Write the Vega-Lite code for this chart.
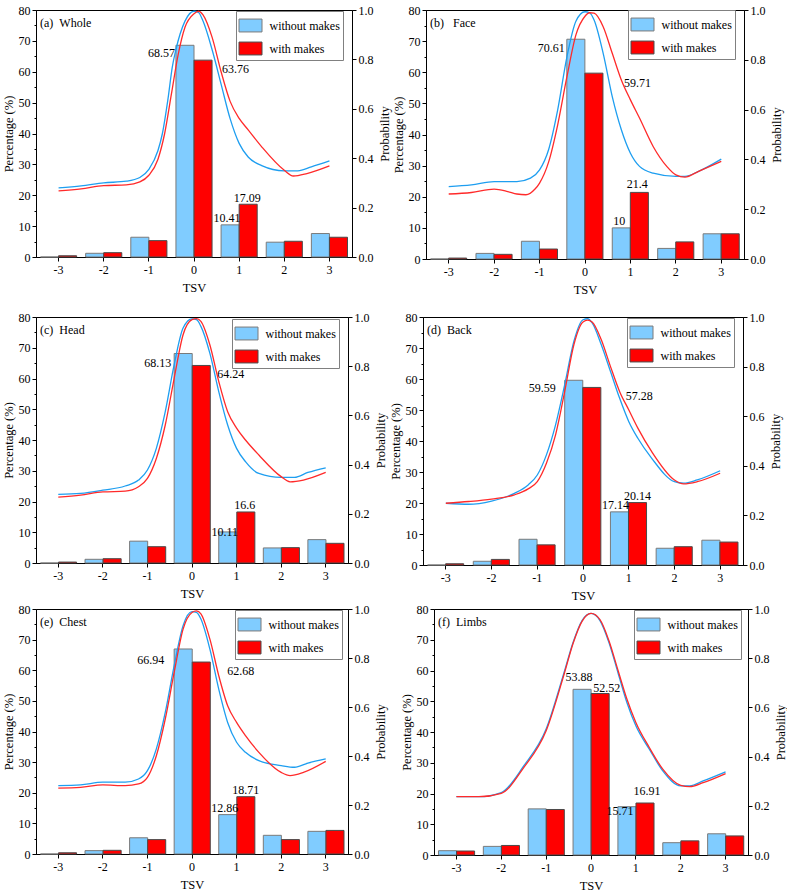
{
"$schema": "https://vega.github.io/schema/vega-lite/v6.json",
"padding": {"left": 1, "top": 3, "right": 0, "bottom": 0},
"background": "white",
"config": {
 "font": "Liberation Serif",
 "view": {"stroke": "black", "strokeWidth": 1},
 "axis": {"labelFont": "Liberation Serif", "titleFont": "Liberation Serif", "labelFontSize": 12, "titleFontSize": 12.5, "titleFontWeight": "normal", "labelColor": "black", "titleColor": "black", "domainColor": "black", "tickColor": "black", "grid": false, "tickSize": 4, "labelPadding": 2},
 "legend": {"labelFont": "Liberation Serif", "labelFontSize": 12, "labelColor": "black", "strokeColor": "#808080", "padding": 2.5, "rowPadding": 2, "symbolType": "M-1,-0.56L1,-0.56L1,0.56L-1,0.56Z", "symbolSize": 529, "symbolStrokeWidth": 1, "labelOffset": 7, "title": null},
 "title": {"font": "Liberation Serif", "fontSize": 12, "fontWeight": "normal", "color": "black", "anchor": "start", "frame": "group", "orient": "top", "baseline": "alphabetic", "offset": -26, "dx": 4},
 "text": {"font": "Liberation Serif", "fontSize": 12, "color": "black", "baseline": "middle"},
 "concat": {"spacing": 3}
},
"datasets": {
 "bars": [
  {"panel":"a","TSV":-3,"group":"without makes","pct":0},{"panel":"a","TSV":-3,"group":"with makes","pct":0.4},
  {"panel":"a","TSV":-2,"group":"without makes","pct":1.2},{"panel":"a","TSV":-2,"group":"with makes","pct":1.4},
  {"panel":"a","TSV":-1,"group":"without makes","pct":6.4},{"panel":"a","TSV":-1,"group":"with makes","pct":5.3},
  {"panel":"a","TSV":0,"group":"without makes","pct":68.57},{"panel":"a","TSV":0,"group":"with makes","pct":63.76},
  {"panel":"a","TSV":1,"group":"without makes","pct":10.41},{"panel":"a","TSV":1,"group":"with makes","pct":17.09},
  {"panel":"a","TSV":2,"group":"without makes","pct":4.8},{"panel":"a","TSV":2,"group":"with makes","pct":5.1},
  {"panel":"a","TSV":3,"group":"without makes","pct":7.6},{"panel":"a","TSV":3,"group":"with makes","pct":6.4},
  {"panel":"b","TSV":-3,"group":"without makes","pct":0},{"panel":"b","TSV":-3,"group":"with makes","pct":0.3},
  {"panel":"b","TSV":-2,"group":"without makes","pct":1.8},{"panel":"b","TSV":-2,"group":"with makes","pct":1.5},
  {"panel":"b","TSV":-1,"group":"without makes","pct":5.7},{"panel":"b","TSV":-1,"group":"with makes","pct":3.2},
  {"panel":"b","TSV":0,"group":"without makes","pct":70.61},{"panel":"b","TSV":0,"group":"with makes","pct":59.71},
  {"panel":"b","TSV":1,"group":"without makes","pct":10},{"panel":"b","TSV":1,"group":"with makes","pct":21.4},
  {"panel":"b","TSV":2,"group":"without makes","pct":3.4},{"panel":"b","TSV":2,"group":"with makes","pct":5.5},
  {"panel":"b","TSV":3,"group":"without makes","pct":8.1},{"panel":"b","TSV":3,"group":"with makes","pct":8.1},
  {"panel":"c","TSV":-3,"group":"without makes","pct":0},{"panel":"c","TSV":-3,"group":"with makes","pct":0.3},
  {"panel":"c","TSV":-2,"group":"without makes","pct":1.2},{"panel":"c","TSV":-2,"group":"with makes","pct":1.4},
  {"panel":"c","TSV":-1,"group":"without makes","pct":7.1},{"panel":"c","TSV":-1,"group":"with makes","pct":5.3},
  {"panel":"c","TSV":0,"group":"without makes","pct":68.13},{"panel":"c","TSV":0,"group":"with makes","pct":64.24},
  {"panel":"c","TSV":1,"group":"without makes","pct":10.11},{"panel":"c","TSV":1,"group":"with makes","pct":16.6},
  {"panel":"c","TSV":2,"group":"without makes","pct":4.9},{"panel":"c","TSV":2,"group":"with makes","pct":5.0},
  {"panel":"c","TSV":3,"group":"without makes","pct":7.6},{"panel":"c","TSV":3,"group":"with makes","pct":6.4},
  {"panel":"d","TSV":-3,"group":"without makes","pct":0},{"panel":"d","TSV":-3,"group":"with makes","pct":0.4},
  {"panel":"d","TSV":-2,"group":"without makes","pct":1.2},{"panel":"d","TSV":-2,"group":"with makes","pct":1.8},
  {"panel":"d","TSV":-1,"group":"without makes","pct":8.3},{"panel":"d","TSV":-1,"group":"with makes","pct":6.5},
  {"panel":"d","TSV":0,"group":"without makes","pct":59.59},{"panel":"d","TSV":0,"group":"with makes","pct":57.28},
  {"panel":"d","TSV":1,"group":"without makes","pct":17.14},{"panel":"d","TSV":1,"group":"with makes","pct":20.14},
  {"panel":"d","TSV":2,"group":"without makes","pct":5.4},{"panel":"d","TSV":2,"group":"with makes","pct":5.9},
  {"panel":"d","TSV":3,"group":"without makes","pct":8.0},{"panel":"d","TSV":3,"group":"with makes","pct":7.4},
  {"panel":"e","TSV":-3,"group":"without makes","pct":0},{"panel":"e","TSV":-3,"group":"with makes","pct":0.4},
  {"panel":"e","TSV":-2,"group":"without makes","pct":1.1},{"panel":"e","TSV":-2,"group":"with makes","pct":1.2},
  {"panel":"e","TSV":-1,"group":"without makes","pct":5.3},{"panel":"e","TSV":-1,"group":"with makes","pct":4.7},
  {"panel":"e","TSV":0,"group":"without makes","pct":66.94},{"panel":"e","TSV":0,"group":"with makes","pct":62.68},
  {"panel":"e","TSV":1,"group":"without makes","pct":12.86},{"panel":"e","TSV":1,"group":"with makes","pct":18.71},
  {"panel":"e","TSV":2,"group":"without makes","pct":6.1},{"panel":"e","TSV":2,"group":"with makes","pct":4.7},
  {"panel":"e","TSV":3,"group":"without makes","pct":7.4},{"panel":"e","TSV":3,"group":"with makes","pct":7.7},
  {"panel":"f","TSV":-3,"group":"without makes","pct":1.4},{"panel":"f","TSV":-3,"group":"with makes","pct":1.3},
  {"panel":"f","TSV":-2,"group":"without makes","pct":2.8},{"panel":"f","TSV":-2,"group":"with makes","pct":3.1},
  {"panel":"f","TSV":-1,"group":"without makes","pct":15.0},{"panel":"f","TSV":-1,"group":"with makes","pct":14.8},
  {"panel":"f","TSV":0,"group":"without makes","pct":53.88},{"panel":"f","TSV":0,"group":"with makes","pct":52.52},
  {"panel":"f","TSV":1,"group":"without makes","pct":15.71},{"panel":"f","TSV":1,"group":"with makes","pct":16.91},
  {"panel":"f","TSV":2,"group":"without makes","pct":4.0},{"panel":"f","TSV":2,"group":"with makes","pct":4.6},
  {"panel":"f","TSV":3,"group":"without makes","pct":6.9},{"panel":"f","TSV":3,"group":"with makes","pct":6.2}
 ],
 "curves": [
  {"panel":"a","group":"without makes","t":-3,"p":0.28},{"panel":"a","group":"without makes","t":-2.5,"p":0.288},{"panel":"a","group":"without makes","t":-2,"p":0.3},{"panel":"a","group":"without makes","t":-1.5,"p":0.307},{"panel":"a","group":"without makes","t":-1.2,"p":0.322},{"panel":"a","group":"without makes","t":-1,"p":0.355},{"panel":"a","group":"without makes","t":-0.8,"p":0.43},{"panel":"a","group":"without makes","t":-0.7,"p":0.5},{"panel":"a","group":"without makes","t":-0.58,"p":0.635},{"panel":"a","group":"without makes","t":-0.48,"p":0.77},{"panel":"a","group":"without makes","t":-0.4,"p":0.84},{"panel":"a","group":"without makes","t":-0.2,"p":0.955},{"panel":"a","group":"without makes","t":0,"p":0.995},{"panel":"a","group":"without makes","t":0.1,"p":0.99},{"panel":"a","group":"without makes","t":0.2,"p":0.955},{"panel":"a","group":"without makes","t":0.4,"p":0.84},{"panel":"a","group":"without makes","t":0.6,"p":0.7},{"panel":"a","group":"without makes","t":0.8,"p":0.56},{"panel":"a","group":"without makes","t":1,"p":0.46},{"panel":"a","group":"without makes","t":1.2,"p":0.405},{"panel":"a","group":"without makes","t":1.5,"p":0.37},{"panel":"a","group":"without makes","t":2,"p":0.349},{"panel":"a","group":"without makes","t":2.3,"p":0.349},{"panel":"a","group":"without makes","t":2.6,"p":0.365},{"panel":"a","group":"without makes","t":3,"p":0.389},
  {"panel":"a","group":"with makes","t":-3,"p":0.268},{"panel":"a","group":"with makes","t":-2.5,"p":0.276},{"panel":"a","group":"with makes","t":-2,"p":0.289},{"panel":"a","group":"with makes","t":-1.5,"p":0.292},{"panel":"a","group":"with makes","t":-1.2,"p":0.304},{"panel":"a","group":"with makes","t":-1,"p":0.331},{"panel":"a","group":"with makes","t":-0.8,"p":0.395},{"panel":"a","group":"with makes","t":-0.65,"p":0.5},{"panel":"a","group":"with makes","t":-0.5,"p":0.66},{"panel":"a","group":"with makes","t":-0.35,"p":0.82},{"panel":"a","group":"with makes","t":-0.2,"p":0.93},{"panel":"a","group":"with makes","t":0,"p":0.985},{"panel":"a","group":"with makes","t":0.1,"p":0.995},{"panel":"a","group":"with makes","t":0.2,"p":0.98},{"panel":"a","group":"with makes","t":0.4,"p":0.89},{"panel":"a","group":"with makes","t":0.6,"p":0.75},{"panel":"a","group":"with makes","t":0.8,"p":0.63},{"panel":"a","group":"with makes","t":1,"p":0.561},{"panel":"a","group":"with makes","t":1.2,"p":0.515},{"panel":"a","group":"with makes","t":1.5,"p":0.446},{"panel":"a","group":"with makes","t":2,"p":0.351},{"panel":"a","group":"with makes","t":2.2,"p":0.328},{"panel":"a","group":"with makes","t":2.5,"p":0.338},{"panel":"a","group":"with makes","t":3,"p":0.369},
  {"panel":"b","group":"without makes","t":-3,"p":0.291},{"panel":"b","group":"without makes","t":-2.5,"p":0.298},{"panel":"b","group":"without makes","t":-2,"p":0.311},{"panel":"b","group":"without makes","t":-1.5,"p":0.311},{"panel":"b","group":"without makes","t":-1.2,"p":0.325},{"panel":"b","group":"without makes","t":-1,"p":0.358},{"panel":"b","group":"without makes","t":-0.8,"p":0.44},{"panel":"b","group":"without makes","t":-0.6,"p":0.6},{"panel":"b","group":"without makes","t":-0.4,"p":0.81},{"panel":"b","group":"without makes","t":-0.2,"p":0.955},{"panel":"b","group":"without makes","t":0,"p":0.993},{"panel":"b","group":"without makes","t":0.1,"p":0.989},{"panel":"b","group":"without makes","t":0.2,"p":0.96},{"panel":"b","group":"without makes","t":0.4,"p":0.826},{"panel":"b","group":"without makes","t":0.6,"p":0.652},{"panel":"b","group":"without makes","t":0.8,"p":0.519},{"panel":"b","group":"without makes","t":1,"p":0.425},{"panel":"b","group":"without makes","t":1.2,"p":0.372},{"panel":"b","group":"without makes","t":1.5,"p":0.345},{"panel":"b","group":"without makes","t":2,"p":0.332},{"panel":"b","group":"without makes","t":2.2,"p":0.332},{"panel":"b","group":"without makes","t":2.5,"p":0.352},{"panel":"b","group":"without makes","t":3,"p":0.401},
  {"panel":"b","group":"with makes","t":-3,"p":0.261},{"panel":"b","group":"with makes","t":-2.5,"p":0.267},{"panel":"b","group":"with makes","t":-2,"p":0.281},{"panel":"b","group":"with makes","t":-1.7,"p":0.271},{"panel":"b","group":"with makes","t":-1.5,"p":0.261},{"panel":"b","group":"with makes","t":-1.3,"p":0.258},{"panel":"b","group":"with makes","t":-1.1,"p":0.281},{"panel":"b","group":"with makes","t":-1,"p":0.305},{"panel":"b","group":"with makes","t":-0.8,"p":0.39},{"panel":"b","group":"with makes","t":-0.6,"p":0.54},{"panel":"b","group":"with makes","t":-0.4,"p":0.73},{"panel":"b","group":"with makes","t":-0.2,"p":0.9},{"panel":"b","group":"with makes","t":0,"p":0.975},{"panel":"b","group":"with makes","t":0.1,"p":0.989},{"panel":"b","group":"with makes","t":0.2,"p":0.987},{"panel":"b","group":"with makes","t":0.4,"p":0.933},{"panel":"b","group":"with makes","t":0.6,"p":0.826},{"panel":"b","group":"with makes","t":0.8,"p":0.719},{"panel":"b","group":"with makes","t":1,"p":0.639},{"panel":"b","group":"with makes","t":1.2,"p":0.566},{"panel":"b","group":"with makes","t":1.5,"p":0.452},{"panel":"b","group":"with makes","t":1.8,"p":0.372},{"panel":"b","group":"with makes","t":2,"p":0.338},{"panel":"b","group":"with makes","t":2.2,"p":0.329},{"panel":"b","group":"with makes","t":2.5,"p":0.352},{"panel":"b","group":"with makes","t":3,"p":0.392},
  {"panel":"c","group":"without makes","t":-3,"p":0.279},{"panel":"c","group":"without makes","t":-2.5,"p":0.283},{"panel":"c","group":"without makes","t":-2,"p":0.296},{"panel":"c","group":"without makes","t":-1.5,"p":0.313},{"panel":"c","group":"without makes","t":-1.2,"p":0.337},{"panel":"c","group":"without makes","t":-1,"p":0.378},{"panel":"c","group":"without makes","t":-0.8,"p":0.466},{"panel":"c","group":"without makes","t":-0.6,"p":0.615},{"panel":"c","group":"without makes","t":-0.4,"p":0.806},{"panel":"c","group":"without makes","t":-0.2,"p":0.955},{"panel":"c","group":"without makes","t":0,"p":0.992},{"panel":"c","group":"without makes","t":0.1,"p":0.989},{"panel":"c","group":"without makes","t":0.2,"p":0.962},{"panel":"c","group":"without makes","t":0.4,"p":0.853},{"panel":"c","group":"without makes","t":0.6,"p":0.697},{"panel":"c","group":"without makes","t":0.8,"p":0.561},{"panel":"c","group":"without makes","t":1,"p":0.466},{"panel":"c","group":"without makes","t":1.2,"p":0.412},{"panel":"c","group":"without makes","t":1.5,"p":0.364},{"panel":"c","group":"without makes","t":2,"p":0.348},{"panel":"c","group":"without makes","t":2.3,"p":0.348},{"panel":"c","group":"without makes","t":2.6,"p":0.368},{"panel":"c","group":"without makes","t":3,"p":0.387},
  {"panel":"c","group":"with makes","t":-3,"p":0.268},{"panel":"c","group":"with makes","t":-2.5,"p":0.276},{"panel":"c","group":"with makes","t":-2,"p":0.289},{"panel":"c","group":"with makes","t":-1.5,"p":0.292},{"panel":"c","group":"with makes","t":-1.2,"p":0.31},{"panel":"c","group":"with makes","t":-1,"p":0.344},{"panel":"c","group":"with makes","t":-0.8,"p":0.425},{"panel":"c","group":"with makes","t":-0.6,"p":0.561},{"panel":"c","group":"with makes","t":-0.4,"p":0.751},{"panel":"c","group":"with makes","t":-0.2,"p":0.928},{"panel":"c","group":"with makes","t":0,"p":0.989},{"panel":"c","group":"with makes","t":0.1,"p":0.993},{"panel":"c","group":"with makes","t":0.2,"p":0.982},{"panel":"c","group":"with makes","t":0.4,"p":0.887},{"panel":"c","group":"with makes","t":0.6,"p":0.738},{"panel":"c","group":"with makes","t":0.8,"p":0.615},{"panel":"c","group":"with makes","t":1,"p":0.548},{"panel":"c","group":"with makes","t":1.2,"p":0.5},{"panel":"c","group":"with makes","t":1.5,"p":0.439},{"panel":"c","group":"with makes","t":2,"p":0.351},{"panel":"c","group":"with makes","t":2.2,"p":0.33},{"panel":"c","group":"with makes","t":2.5,"p":0.337},{"panel":"c","group":"with makes","t":3,"p":0.368},
  {"panel":"d","group":"without makes","t":-3,"p":0.249},{"panel":"d","group":"without makes","t":-2.5,"p":0.245},{"panel":"d","group":"without makes","t":-2,"p":0.258},{"panel":"d","group":"without makes","t":-1.5,"p":0.289},{"panel":"d","group":"without makes","t":-1.2,"p":0.323},{"panel":"d","group":"without makes","t":-1,"p":0.363},{"panel":"d","group":"without makes","t":-0.8,"p":0.444},{"panel":"d","group":"without makes","t":-0.6,"p":0.565},{"panel":"d","group":"without makes","t":-0.4,"p":0.727},{"panel":"d","group":"without makes","t":-0.2,"p":0.902},{"panel":"d","group":"without makes","t":0,"p":0.989},{"panel":"d","group":"without makes","t":0.1,"p":0.993},{"panel":"d","group":"without makes","t":0.2,"p":0.976},{"panel":"d","group":"without makes","t":0.4,"p":0.888},{"panel":"d","group":"without makes","t":0.6,"p":0.781},{"panel":"d","group":"without makes","t":0.8,"p":0.673},{"panel":"d","group":"without makes","t":1,"p":0.579},{"panel":"d","group":"without makes","t":1.2,"p":0.511},{"panel":"d","group":"without makes","t":1.5,"p":0.431},{"panel":"d","group":"without makes","t":2,"p":0.336},{"panel":"d","group":"without makes","t":2.2,"p":0.33},{"panel":"d","group":"without makes","t":2.5,"p":0.343},{"panel":"d","group":"without makes","t":3,"p":0.38},
  {"panel":"d","group":"with makes","t":-3,"p":0.249},{"panel":"d","group":"with makes","t":-2.5,"p":0.256},{"panel":"d","group":"with makes","t":-2,"p":0.266},{"panel":"d","group":"with makes","t":-1.5,"p":0.283},{"panel":"d","group":"with makes","t":-1.2,"p":0.307},{"panel":"d","group":"with makes","t":-1,"p":0.336},{"panel":"d","group":"with makes","t":-0.8,"p":0.41},{"panel":"d","group":"with makes","t":-0.6,"p":0.525},{"panel":"d","group":"with makes","t":-0.4,"p":0.7},{"panel":"d","group":"with makes","t":-0.2,"p":0.888},{"panel":"d","group":"with makes","t":0,"p":0.98},{"panel":"d","group":"with makes","t":0.1,"p":0.987},{"panel":"d","group":"with makes","t":0.2,"p":0.98},{"panel":"d","group":"with makes","t":0.4,"p":0.908},{"panel":"d","group":"with makes","t":0.6,"p":0.801},{"panel":"d","group":"with makes","t":0.8,"p":0.7},{"panel":"d","group":"with makes","t":1,"p":0.626},{"panel":"d","group":"with makes","t":1.2,"p":0.552},{"panel":"d","group":"with makes","t":1.5,"p":0.458},{"panel":"d","group":"with makes","t":2,"p":0.343},{"panel":"d","group":"with makes","t":2.2,"p":0.327},{"panel":"d","group":"with makes","t":2.5,"p":0.336},{"panel":"d","group":"with makes","t":3,"p":0.37},
  {"panel":"e","group":"without makes","t":-3,"p":0.279},{"panel":"e","group":"without makes","t":-2.5,"p":0.282},{"panel":"e","group":"without makes","t":-2,"p":0.293},{"panel":"e","group":"without makes","t":-1.5,"p":0.293},{"panel":"e","group":"without makes","t":-1.2,"p":0.306},{"panel":"e","group":"without makes","t":-1,"p":0.34},{"panel":"e","group":"without makes","t":-0.8,"p":0.429},{"panel":"e","group":"without makes","t":-0.6,"p":0.578},{"panel":"e","group":"without makes","t":-0.4,"p":0.769},{"panel":"e","group":"without makes","t":-0.2,"p":0.932},{"panel":"e","group":"without makes","t":0,"p":0.989},{"panel":"e","group":"without makes","t":0.1,"p":0.986},{"panel":"e","group":"without makes","t":0.2,"p":0.959},{"panel":"e","group":"without makes","t":0.4,"p":0.837},{"panel":"e","group":"without makes","t":0.6,"p":0.673},{"panel":"e","group":"without makes","t":0.8,"p":0.537},{"panel":"e","group":"without makes","t":1,"p":0.456},{"panel":"e","group":"without makes","t":1.2,"p":0.415},{"panel":"e","group":"without makes","t":1.5,"p":0.381},{"panel":"e","group":"without makes","t":2,"p":0.361},{"panel":"e","group":"without makes","t":2.3,"p":0.354},{"panel":"e","group":"without makes","t":2.6,"p":0.371},{"panel":"e","group":"without makes","t":3,"p":0.388},
  {"panel":"e","group":"with makes","t":-3,"p":0.269},{"panel":"e","group":"with makes","t":-2.5,"p":0.272},{"panel":"e","group":"with makes","t":-2,"p":0.282},{"panel":"e","group":"with makes","t":-1.5,"p":0.279},{"panel":"e","group":"with makes","t":-1.2,"p":0.286},{"panel":"e","group":"with makes","t":-1,"p":0.313},{"panel":"e","group":"with makes","t":-0.8,"p":0.401},{"panel":"e","group":"with makes","t":-0.6,"p":0.551},{"panel":"e","group":"with makes","t":-0.4,"p":0.741},{"panel":"e","group":"with makes","t":-0.2,"p":0.918},{"panel":"e","group":"with makes","t":0,"p":0.986},{"panel":"e","group":"with makes","t":0.1,"p":0.992},{"panel":"e","group":"with makes","t":0.2,"p":0.98},{"panel":"e","group":"with makes","t":0.4,"p":0.878},{"panel":"e","group":"with makes","t":0.6,"p":0.728},{"panel":"e","group":"with makes","t":0.8,"p":0.605},{"panel":"e","group":"with makes","t":1,"p":0.537},{"panel":"e","group":"with makes","t":1.2,"p":0.483},{"panel":"e","group":"with makes","t":1.5,"p":0.415},{"panel":"e","group":"with makes","t":2,"p":0.333},{"panel":"e","group":"with makes","t":2.2,"p":0.32},{"panel":"e","group":"with makes","t":2.5,"p":0.333},{"panel":"e","group":"with makes","t":3,"p":0.378},
  {"panel":"f","group":"without makes","t":-3,"p":0.237},{"panel":"f","group":"without makes","t":-2.5,"p":0.237},{"panel":"f","group":"without makes","t":-2,"p":0.254},{"panel":"f","group":"without makes","t":-1.5,"p":0.362},{"panel":"f","group":"without makes","t":-1,"p":0.512},{"panel":"f","group":"without makes","t":-0.6,"p":0.742},{"panel":"f","group":"without makes","t":-0.4,"p":0.864},{"panel":"f","group":"without makes","t":-0.2,"p":0.953},{"panel":"f","group":"without makes","t":0,"p":0.982},{"panel":"f","group":"without makes","t":0.2,"p":0.953},{"panel":"f","group":"without makes","t":0.4,"p":0.864},{"panel":"f","group":"without makes","t":0.6,"p":0.742},{"panel":"f","group":"without makes","t":0.8,"p":0.62},{"panel":"f","group":"without makes","t":1,"p":0.525},{"panel":"f","group":"without makes","t":1.3,"p":0.43},{"panel":"f","group":"without makes","t":1.6,"p":0.342},{"panel":"f","group":"without makes","t":2,"p":0.281},{"panel":"f","group":"without makes","t":2.2,"p":0.281},{"panel":"f","group":"without makes","t":2.5,"p":0.301},{"panel":"f","group":"without makes","t":3,"p":0.338},
  {"panel":"f","group":"with makes","t":-3,"p":0.237},{"panel":"f","group":"with makes","t":-2.5,"p":0.237},{"panel":"f","group":"with makes","t":-2,"p":0.251},{"panel":"f","group":"with makes","t":-1.5,"p":0.355},{"panel":"f","group":"with makes","t":-1,"p":0.505},{"panel":"f","group":"with makes","t":-0.6,"p":0.735},{"panel":"f","group":"with makes","t":-0.4,"p":0.86},{"panel":"f","group":"with makes","t":-0.2,"p":0.95},{"panel":"f","group":"with makes","t":0,"p":0.982},{"panel":"f","group":"with makes","t":0.2,"p":0.957},{"panel":"f","group":"with makes","t":0.4,"p":0.871},{"panel":"f","group":"with makes","t":0.6,"p":0.752},{"panel":"f","group":"with makes","t":0.8,"p":0.634},{"panel":"f","group":"with makes","t":1,"p":0.539},{"panel":"f","group":"with makes","t":1.3,"p":0.437},{"panel":"f","group":"with makes","t":1.6,"p":0.349},{"panel":"f","group":"with makes","t":2,"p":0.283},{"panel":"f","group":"with makes","t":2.2,"p":0.278},{"panel":"f","group":"with makes","t":2.5,"p":0.294},{"panel":"f","group":"with makes","t":3,"p":0.331}
 ]
},
"resolve": {"scale": {"color": "independent", "stroke": "independent"}, "legend": {"color": "independent", "stroke": "independent"}},
"spacing": 14,
"vconcat": [
 {"hconcat": [
  {"width": 316, "height": 247, "title": {"text": "(a)\u00a0\u00a0Whole"},
   "layer": [
    {"data": {"name": "bars"}, "transform": [{"filter": "datum.panel === 'a'"}],
     "encoding": {
      "x": {"field": "TSV", "type": "ordinal", "scale": {"domain": [-3,-2,-1,0,1,2,3], "paddingInner": 0.2, "paddingOuter": 0.1}, "axis": {"title": "TSV", "labelAngle": 0, "labelPadding": 3, "titlePadding": 6}},
      "xOffset": {"field": "group", "type": "nominal", "sort": ["without makes", "with makes"], "scale": {"paddingInner": 0, "paddingOuter": 0}},
      "y": {"field": "pct", "type": "quantitative", "scale": {"domain": [0, 80], "nice": false}, "axis": {"title": "Percentage (%)", "titlePadding": 3, "values": [0,5,10,15,20,25,30,35,40,45,50,55,60,65,70,75,80], "labelExpr": "datum.value % 10 === 0 ? datum.label : ''", "tickSize": {"condition": {"test": "datum.value % 10 === 0", "value": 4}, "value": 2}}}
     },
     "layer": [
      {"mark": {"type": "bar", "strokeWidth": 1},
       "encoding": {
        "color": {"field": "group", "type": "nominal", "sort": ["without makes", "with makes"], "scale": {"domain": ["without makes", "with makes"], "range": ["#80ccff", "#ff0000"]}, "legend": {"orient": "none", "legendX": 200, "legendY": 1}},
        "stroke": {"field": "group", "type": "nominal", "sort": ["without makes", "with makes"], "scale": {"domain": ["without makes", "with makes"], "range": ["#7a7a7a", "#4a4a4a"]}, "legend": {"orient": "none", "legendX": 200, "legendY": 1}}
       }},
      {"transform": [{"filter": "datum.TSV === 0 && datum.group === 'without makes'"}], "mark": {"type": "text", "align": "right", "dx": -10, "dy": 8}, "encoding": {"text": {"field": "pct", "type": "nominal"}}},
      {"transform": [{"filter": "datum.TSV === 0 && datum.group === 'with makes'"}], "mark": {"type": "text", "align": "left", "dx": 19, "dy": 9}, "encoding": {"text": {"field": "pct", "type": "nominal"}}},
      {"transform": [{"filter": "datum.TSV === 1 && datum.group === 'without makes'"}], "mark": {"type": "text", "align": "center", "dx": -3, "dy": -7}, "encoding": {"text": {"field": "pct", "type": "nominal"}}},
      {"transform": [{"filter": "datum.TSV === 1 && datum.group === 'with makes'"}], "mark": {"type": "text", "align": "center", "dx": -1, "dy": -6}, "encoding": {"text": {"field": "pct", "type": "nominal"}}}
     ]},
    {"data": {"name": "curves"}, "transform": [{"filter": "datum.panel === 'a'"}],
     "mark": {"type": "line", "interpolate": "monotone", "strokeWidth": 1.3},
     "encoding": {
      "x": {"field": "t", "type": "quantitative", "scale": {"domain": [-3.5, 3.5], "nice": false, "zero": false}, "axis": null},
      "y": {"field": "p", "type": "quantitative", "scale": {"domain": [0, 1], "nice": false}, "axis": {"orient": "right", "title": "Probability", "titleAngle": 270, "titleBaseline": "top", "titlePadding": 5, "values": [0,0.2,0.4,0.6,0.8,1], "format": ".1f"}},
      "detail": {"field": "group", "type": "nominal"},
      "stroke": {"condition": {"test": "datum.group === 'with makes'", "value": "#ff2a2a"}, "value": "#1e9ef0"}
     }}
   ],
   "resolve": {"scale": {"x": "independent", "y": "independent"}}
  },
  {"width": 318, "height": 249, "title": {"text": "(b)\u00a0\u00a0\u00a0Face"},
   "layer": [
    {"data": {"name": "bars"}, "transform": [{"filter": "datum.panel === 'b'"}],
     "encoding": {
      "x": {"field": "TSV", "type": "ordinal", "scale": {"domain": [-3,-2,-1,0,1,2,3], "paddingInner": 0.2, "paddingOuter": 0.1}, "axis": {"title": "TSV", "labelAngle": 0, "labelPadding": 3, "titlePadding": 6}},
      "xOffset": {"field": "group", "type": "nominal", "sort": ["without makes", "with makes"], "scale": {"paddingInner": 0, "paddingOuter": 0}},
      "y": {"field": "pct", "type": "quantitative", "scale": {"domain": [0, 80], "nice": false}, "axis": {"title": "Percentage (%)", "titlePadding": 3, "values": [0,5,10,15,20,25,30,35,40,45,50,55,60,65,70,75,80], "labelExpr": "datum.value % 10 === 0 ? datum.label : ''", "tickSize": {"condition": {"test": "datum.value % 10 === 0", "value": 4}, "value": 2}}}
     },
     "layer": [
      {"mark": {"type": "bar", "strokeWidth": 1},
       "encoding": {
        "color": {"field": "group", "type": "nominal", "sort": ["without makes", "with makes"], "scale": {"domain": ["without makes", "with makes"], "range": ["#80ccff", "#ff0000"]}, "legend": {"orient": "none", "legendX": 202, "legendY": 0}},
        "stroke": {"field": "group", "type": "nominal", "sort": ["without makes", "with makes"], "scale": {"domain": ["without makes", "with makes"], "range": ["#7a7a7a", "#4a4a4a"]}, "legend": {"orient": "none", "legendX": 202, "legendY": 0}}
       }},
      {"transform": [{"filter": "datum.TSV === 0 && datum.group === 'without makes'"}], "mark": {"type": "text", "align": "right", "dx": -11, "dy": 9}, "encoding": {"text": {"field": "pct", "type": "nominal"}}},
      {"transform": [{"filter": "datum.TSV === 0 && datum.group === 'with makes'"}], "mark": {"type": "text", "align": "left", "dx": 30, "dy": 10}, "encoding": {"text": {"field": "pct", "type": "nominal"}}},
      {"transform": [{"filter": "datum.TSV === 1 && datum.group === 'without makes'"}], "mark": {"type": "text", "align": "center", "dx": -2, "dy": -7}, "encoding": {"text": {"field": "pct", "type": "nominal"}}},
      {"transform": [{"filter": "datum.TSV === 1 && datum.group === 'with makes'"}], "mark": {"type": "text", "align": "center", "dx": -2, "dy": -8}, "encoding": {"text": {"field": "pct", "type": "nominal"}}}
     ]},
    {"data": {"name": "curves"}, "transform": [{"filter": "datum.panel === 'b'"}],
     "mark": {"type": "line", "interpolate": "monotone", "strokeWidth": 1.3},
     "encoding": {
      "x": {"field": "t", "type": "quantitative", "scale": {"domain": [-3.5, 3.5], "nice": false, "zero": false}, "axis": null},
      "y": {"field": "p", "type": "quantitative", "scale": {"domain": [0, 1], "nice": false}, "axis": {"orient": "right", "title": "Probability", "titleAngle": 270, "titleBaseline": "top", "titlePadding": 5, "values": [0,0.2,0.4,0.6,0.8,1], "format": ".1f"}},
      "detail": {"field": "group", "type": "nominal"},
      "stroke": {"condition": {"test": "datum.group === 'with makes'", "value": "#ff2a2a"}, "value": "#1e9ef0"}
     }}
   ],
   "resolve": {"scale": {"x": "independent", "y": "independent"}}
  }
 ], "spacing": 0, "resolve": {"scale": {"color": "independent", "stroke": "independent"}, "legend": {"color": "independent", "stroke": "independent"}}},
 {"vconcat": [
  {"hconcat": [
   {"width": 312, "height": 246, "title": {"text": "(c)\u00a0\u00a0Head"},
    "layer": [
     {"data": {"name": "bars"}, "transform": [{"filter": "datum.panel === 'c'"}],
      "encoding": {
       "x": {"field": "TSV", "type": "ordinal", "scale": {"domain": [-3,-2,-1,0,1,2,3], "paddingInner": 0.2, "paddingOuter": 0.1}, "axis": {"title": "TSV", "labelAngle": 0, "labelPadding": 3, "titlePadding": 6}},
       "xOffset": {"field": "group", "type": "nominal", "sort": ["without makes", "with makes"], "scale": {"paddingInner": 0, "paddingOuter": 0}},
       "y": {"field": "pct", "type": "quantitative", "scale": {"domain": [0, 80], "nice": false}, "axis": {"title": "Percentage (%)", "titlePadding": 3, "values": [0,5,10,15,20,25,30,35,40,45,50,55,60,65,70,75,80], "labelExpr": "datum.value % 10 === 0 ? datum.label : ''", "tickSize": {"condition": {"test": "datum.value % 10 === 0", "value": 4}, "value": 2}}}
      },
      "layer": [
       {"mark": {"type": "bar", "strokeWidth": 1},
        "encoding": {
         "color": {"field": "group", "type": "nominal", "sort": ["without makes", "with makes"], "scale": {"domain": ["without makes", "with makes"], "range": ["#80ccff", "#ff0000"]}, "legend": {"orient": "none", "legendX": 196, "legendY": 2}},
         "stroke": {"field": "group", "type": "nominal", "sort": ["without makes", "with makes"], "scale": {"domain": ["without makes", "with makes"], "range": ["#7a7a7a", "#4a4a4a"]}, "legend": {"orient": "none", "legendX": 196, "legendY": 2}}
        }},
       {"transform": [{"filter": "datum.TSV === 0 && datum.group === 'without makes'"}], "mark": {"type": "text", "align": "right", "dx": -12, "dy": 9}, "encoding": {"text": {"field": "pct", "type": "nominal"}}},
       {"transform": [{"filter": "datum.TSV === 0 && datum.group === 'with makes'"}], "mark": {"type": "text", "align": "left", "dx": 16, "dy": 9}, "encoding": {"text": {"field": "pct", "type": "nominal"}}},
       {"transform": [{"filter": "datum.TSV === 1 && datum.group === 'without makes'"}], "mark": {"type": "text", "align": "center", "dx": -3, "dy": 0}, "encoding": {"text": {"field": "pct", "type": "nominal"}}},
       {"transform": [{"filter": "datum.TSV === 1 && datum.group === 'with makes'"}], "mark": {"type": "text", "align": "center", "dx": -1, "dy": -7}, "encoding": {"text": {"field": "pct", "type": "nominal"}}}
      ]},
     {"data": {"name": "curves"}, "transform": [{"filter": "datum.panel === 'c'"}],
      "mark": {"type": "line", "interpolate": "monotone", "strokeWidth": 1.3},
      "encoding": {
       "x": {"field": "t", "type": "quantitative", "scale": {"domain": [-3.5, 3.5], "nice": false, "zero": false}, "axis": null},
       "y": {"field": "p", "type": "quantitative", "scale": {"domain": [0, 1], "nice": false}, "axis": {"orient": "right", "title": "Probability", "titleAngle": 270, "titleBaseline": "top", "titlePadding": 5, "values": [0,0.2,0.4,0.6,0.8,1], "format": ".1f"}},
       "detail": {"field": "group", "type": "nominal"},
       "stroke": {"condition": {"test": "datum.group === 'with makes'", "value": "#ff2a2a"}, "value": "#1e9ef0"}
      }}
    ],
    "resolve": {"scale": {"x": "independent", "y": "independent"}}
   },
   {"width": 320, "height": 248, "title": {"text": "(d)\u00a0\u00a0Back"},
    "layer": [
     {"data": {"name": "bars"}, "transform": [{"filter": "datum.panel === 'd'"}],
      "encoding": {
       "x": {"field": "TSV", "type": "ordinal", "scale": {"domain": [-3,-2,-1,0,1,2,3], "paddingInner": 0.2, "paddingOuter": 0.1}, "axis": {"title": "TSV", "labelAngle": 0, "labelPadding": 3, "titlePadding": 6}},
       "xOffset": {"field": "group", "type": "nominal", "sort": ["without makes", "with makes"], "scale": {"paddingInner": 0, "paddingOuter": 0}},
       "y": {"field": "pct", "type": "quantitative", "scale": {"domain": [0, 80], "nice": false}, "axis": {"title": "Percentage (%)", "titlePadding": 3, "values": [0,5,10,15,20,25,30,35,40,45,50,55,60,65,70,75,80], "labelExpr": "datum.value % 10 === 0 ? datum.label : ''", "tickSize": {"condition": {"test": "datum.value % 10 === 0", "value": 4}, "value": 2}}}
      },
      "layer": [
       {"mark": {"type": "bar", "strokeWidth": 1},
        "encoding": {
         "color": {"field": "group", "type": "nominal", "sort": ["without makes", "with makes"], "scale": {"domain": ["without makes", "with makes"], "range": ["#80ccff", "#ff0000"]}, "legend": {"orient": "none", "legendX": 204, "legendY": 1}},
         "stroke": {"field": "group", "type": "nominal", "sort": ["without makes", "with makes"], "scale": {"domain": ["without makes", "with makes"], "range": ["#7a7a7a", "#4a4a4a"]}, "legend": {"orient": "none", "legendX": 204, "legendY": 1}}
        }},
       {"transform": [{"filter": "datum.TSV === 0 && datum.group === 'without makes'"}], "mark": {"type": "text", "align": "right", "dx": -18, "dy": 8}, "encoding": {"text": {"field": "pct", "type": "nominal"}}},
       {"transform": [{"filter": "datum.TSV === 0 && datum.group === 'with makes'"}], "mark": {"type": "text", "align": "left", "dx": 34, "dy": 9}, "encoding": {"text": {"field": "pct", "type": "nominal"}}},
       {"transform": [{"filter": "datum.TSV === 1 && datum.group === 'without makes'"}], "mark": {"type": "text", "align": "center", "dx": -4, "dy": -7}, "encoding": {"text": {"field": "pct", "type": "nominal"}}},
       {"transform": [{"filter": "datum.TSV === 1 && datum.group === 'with makes'"}], "mark": {"type": "text", "align": "center", "dx": 0, "dy": -7}, "encoding": {"text": {"field": "pct", "type": "nominal"}}}
      ]},
     {"data": {"name": "curves"}, "transform": [{"filter": "datum.panel === 'd'"}],
      "mark": {"type": "line", "interpolate": "monotone", "strokeWidth": 1.3},
      "encoding": {
       "x": {"field": "t", "type": "quantitative", "scale": {"domain": [-3.5, 3.5], "nice": false, "zero": false}, "axis": null},
       "y": {"field": "p", "type": "quantitative", "scale": {"domain": [0, 1], "nice": false}, "axis": {"orient": "right", "title": "Probability", "titleAngle": 270, "titleBaseline": "top", "titlePadding": 5, "values": [0,0.2,0.4,0.6,0.8,1], "format": ".1f"}},
       "detail": {"field": "group", "type": "nominal"},
       "stroke": {"condition": {"test": "datum.group === 'with makes'", "value": "#ff2a2a"}, "value": "#1e9ef0"}
      }}
    ],
    "resolve": {"scale": {"x": "independent", "y": "independent"}}
   }
  ], "spacing": 1, "resolve": {"scale": {"color": "independent", "stroke": "independent"}, "legend": {"color": "independent", "stroke": "independent"}}},
  {"hconcat": [
   {"width": 312, "height": 245, "title": {"text": "(e)\u00a0\u00a0Chest"},
    "layer": [
     {"data": {"name": "bars"}, "transform": [{"filter": "datum.panel === 'e'"}],
      "encoding": {
       "x": {"field": "TSV", "type": "ordinal", "scale": {"domain": [-3,-2,-1,0,1,2,3], "paddingInner": 0.2, "paddingOuter": 0.1}, "axis": {"title": "TSV", "labelAngle": 0, "labelPadding": 3, "titlePadding": 6}},
       "xOffset": {"field": "group", "type": "nominal", "sort": ["without makes", "with makes"], "scale": {"paddingInner": 0, "paddingOuter": 0}},
       "y": {"field": "pct", "type": "quantitative", "scale": {"domain": [0, 80], "nice": false}, "axis": {"title": "Percentage (%)", "titlePadding": 3, "values": [0,5,10,15,20,25,30,35,40,45,50,55,60,65,70,75,80], "labelExpr": "datum.value % 10 === 0 ? datum.label : ''", "tickSize": {"condition": {"test": "datum.value % 10 === 0", "value": 4}, "value": 2}}}
      },
      "layer": [
       {"mark": {"type": "bar", "strokeWidth": 1},
        "encoding": {
         "color": {"field": "group", "type": "nominal", "sort": ["without makes", "with makes"], "scale": {"domain": ["without makes", "with makes"], "range": ["#80ccff", "#ff0000"]}, "legend": {"orient": "none", "legendX": 199, "legendY": 1}},
         "stroke": {"field": "group", "type": "nominal", "sort": ["without makes", "with makes"], "scale": {"domain": ["without makes", "with makes"], "range": ["#7a7a7a", "#4a4a4a"]}, "legend": {"orient": "none", "legendX": 199, "legendY": 1}}
        }},
       {"transform": [{"filter": "datum.TSV === 0 && datum.group === 'without makes'"}], "mark": {"type": "text", "align": "right", "dx": -19, "dy": 11}, "encoding": {"text": {"field": "pct", "type": "nominal"}}},
       {"transform": [{"filter": "datum.TSV === 0 && datum.group === 'with makes'"}], "mark": {"type": "text", "align": "left", "dx": 26, "dy": 9}, "encoding": {"text": {"field": "pct", "type": "nominal"}}},
       {"transform": [{"filter": "datum.TSV === 1 && datum.group === 'without makes'"}], "mark": {"type": "text", "align": "center", "dx": -3, "dy": -7}, "encoding": {"text": {"field": "pct", "type": "nominal"}}},
       {"transform": [{"filter": "datum.TSV === 1 && datum.group === 'with makes'"}], "mark": {"type": "text", "align": "center", "dx": 0, "dy": -7}, "encoding": {"text": {"field": "pct", "type": "nominal"}}}
      ]},
     {"data": {"name": "curves"}, "transform": [{"filter": "datum.panel === 'e'"}],
      "mark": {"type": "line", "interpolate": "monotone", "strokeWidth": 1.3},
      "encoding": {
       "x": {"field": "t", "type": "quantitative", "scale": {"domain": [-3.5, 3.5], "nice": false, "zero": false}, "axis": null},
       "y": {"field": "p", "type": "quantitative", "scale": {"domain": [0, 1], "nice": false}, "axis": {"orient": "right", "title": "Probability", "titleAngle": 270, "titleBaseline": "top", "titlePadding": 5, "values": [0,0.2,0.4,0.6,0.8,1], "format": ".1f"}},
       "detail": {"field": "group", "type": "nominal"},
       "stroke": {"condition": {"test": "datum.group === 'with makes'", "value": "#ff2a2a"}, "value": "#1e9ef0"}
      }}
    ],
    "resolve": {"scale": {"x": "independent", "y": "independent"}}
   },
   {"width": 314, "height": 246, "title": {"text": "(f)\u00a0\u00a0Limbs"},
    "layer": [
     {"data": {"name": "bars"}, "transform": [{"filter": "datum.panel === 'f'"}],
      "encoding": {
       "x": {"field": "TSV", "type": "ordinal", "scale": {"domain": [-3,-2,-1,0,1,2,3], "paddingInner": 0.2, "paddingOuter": 0.1}, "axis": {"title": "TSV", "labelAngle": 0, "labelPadding": 3, "titlePadding": 6}},
       "xOffset": {"field": "group", "type": "nominal", "sort": ["without makes", "with makes"], "scale": {"paddingInner": 0, "paddingOuter": 0}},
       "y": {"field": "pct", "type": "quantitative", "scale": {"domain": [0, 80], "nice": false}, "axis": {"title": "Percentage (%)", "titlePadding": 3, "values": [0,5,10,15,20,25,30,35,40,45,50,55,60,65,70,75,80], "labelExpr": "datum.value % 10 === 0 ? datum.label : ''", "tickSize": {"condition": {"test": "datum.value % 10 === 0", "value": 4}, "value": 2}}}
      },
      "layer": [
       {"mark": {"type": "bar", "strokeWidth": 1},
        "encoding": {
         "color": {"field": "group", "type": "nominal", "sort": ["without makes", "with makes"], "scale": {"domain": ["without makes", "with makes"], "range": ["#80ccff", "#ff0000"]}, "legend": {"orient": "none", "legendX": 200, "legendY": 1}},
         "stroke": {"field": "group", "type": "nominal", "sort": ["without makes", "with makes"], "scale": {"domain": ["without makes", "with makes"], "range": ["#7a7a7a", "#4a4a4a"]}, "legend": {"orient": "none", "legendX": 200, "legendY": 1}}
        }},
       {"transform": [{"filter": "datum.TSV === 0 && datum.group === 'without makes'"}], "mark": {"type": "text", "align": "center", "dx": -3, "dy": -12}, "encoding": {"text": {"field": "pct", "type": "nominal"}}},
       {"transform": [{"filter": "datum.TSV === 0 && datum.group === 'with makes'"}], "mark": {"type": "text", "align": "left", "dx": -7, "dy": -6}, "encoding": {"text": {"field": "pct", "type": "nominal"}}},
       {"transform": [{"filter": "datum.TSV === 1 && datum.group === 'without makes'"}], "mark": {"type": "text", "align": "center", "dx": -7, "dy": 4}, "encoding": {"text": {"field": "pct", "type": "nominal"}}},
       {"transform": [{"filter": "datum.TSV === 1 && datum.group === 'with makes'"}], "mark": {"type": "text", "align": "center", "dx": 2, "dy": -12}, "encoding": {"text": {"field": "pct", "type": "nominal"}}}
      ]},
     {"data": {"name": "curves"}, "transform": [{"filter": "datum.panel === 'f'"}],
      "mark": {"type": "line", "interpolate": "monotone", "strokeWidth": 1.3},
      "encoding": {
       "x": {"field": "t", "type": "quantitative", "scale": {"domain": [-3.5, 3.5], "nice": false, "zero": false}, "axis": null},
       "y": {"field": "p", "type": "quantitative", "scale": {"domain": [0, 1], "nice": false}, "axis": {"orient": "right", "title": "Probability", "titleAngle": 270, "titleBaseline": "top", "titlePadding": 5, "values": [0,0.2,0.4,0.6,0.8,1], "format": ".1f"}},
       "detail": {"field": "group", "type": "nominal"},
       "stroke": {"condition": {"test": "datum.group === 'with makes'", "value": "#ff2a2a"}, "value": "#1e9ef0"}
      }}
    ],
    "resolve": {"scale": {"x": "independent", "y": "independent"}}
   }
  ], "spacing": 12, "resolve": {"scale": {"color": "independent", "stroke": "independent"}, "legend": {"color": "independent", "stroke": "independent"}}}
 ], "spacing": 0, "resolve": {"scale": {"color": "independent", "stroke": "independent"}, "legend": {"color": "independent", "stroke": "independent"}}}
]
}
